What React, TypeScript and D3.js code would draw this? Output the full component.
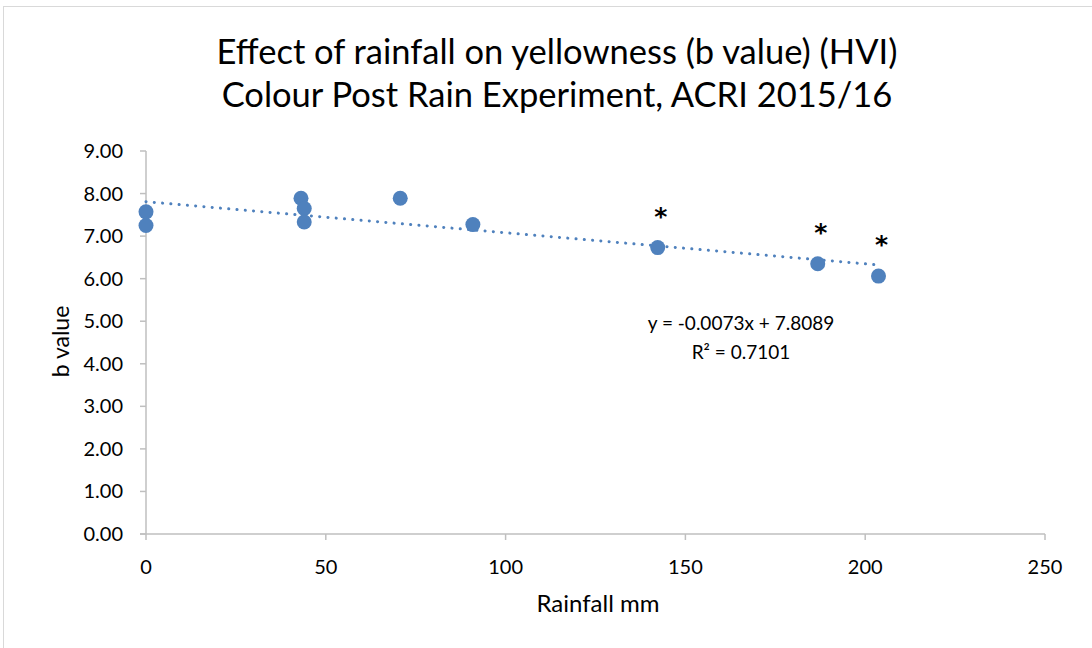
import React, { useEffect, useRef } from "react";
import * as d3 from "d3";

const rainfall = [0, 0, 43.1, 44, 44, 70.7, 90.9, 142.3, 186.8, 203.7];
const bValue = [7.57, 7.25, 7.89, 7.65, 7.33, 7.89, 7.27, 6.73, 6.35, 6.06];
const significant = [false, false, false, false, false, false, false, true, true, true];
const xTicks = [0, 50, 100, 150, 200, 250];
const yTicks = [0, 1, 2, 3, 4, 5, 6, 7, 8, 9];
const slope = -0.0073;
const intercept = 7.8089;
const titleLines = ["Effect of rainfall on yellowness (b value) (HVI)", "Colour Post Rain Experiment, ACRI 2015/16"];
const equationLines = ["y = -0.0073x + 7.8089", "R² = 0.7101"];

const W = 1092;
const H = 648;
const FONT = "Lato, 'Open Sans', sans-serif";
const BLUE = "#4f81bd";

export default function App() {
  const ref = useRef<SVGSVGElement>(null);
  useEffect(() => {
    const svg = d3.select(ref.current);
    svg.selectAll("*").remove();
    const x = d3.scaleLinear().domain([0, 250]).range([146, 1045]);
    const y = d3.scaleLinear().domain([0, 9]).range([534, 151]);

    svg.append("rect").attr("x", 3.5).attr("y", 6.5).attr("width", W + 10).attr("height", H + 10)
      .attr("fill", "#fff").attr("stroke", "#d9d9d9");

    const t = svg.append("g").attr("font-family", FONT).attr("fill", "#000").attr("text-anchor", "middle");
    titleLines.forEach((l, i) => {
      t.append("text").attr("x", 557).attr("y", 64 + i * 43).attr("font-size", 34.5).text(l);
    });

    // axes
    const ax = svg.append("g").attr("stroke", "#bfbfbf").attr("stroke-width", 1.5);
    ax.append("line").attr("x1", x(0)).attr("x2", x(0)).attr("y1", y(9)).attr("y2", y(0));
    ax.append("line").attr("x1", x(0) - 6).attr("x2", x(250)).attr("y1", y(0)).attr("y2", y(0));
    yTicks.forEach(v => {
      ax.append("line").attr("x1", x(0) - 6).attr("x2", x(0)).attr("y1", y(v)).attr("y2", y(v));
    });
    xTicks.forEach(v => {
      ax.append("line").attr("x1", x(v)).attr("x2", x(v)).attr("y1", y(0)).attr("y2", y(0) + 6);
    });

    const lab = svg.append("g").attr("font-family", FONT).attr("font-size", 20).attr("fill", "#000");
    yTicks.forEach(v => {
      lab.append("text").attr("x", 123).attr("y", y(v)).attr("dy", "0.35em").attr("text-anchor", "end").text(v.toFixed(2));
    });
    xTicks.forEach(v => {
      lab.append("text").attr("x", x(v)).attr("y", 574).attr("text-anchor", "middle").text(String(v));
    });
    lab.append("text").attr("x", 598).attr("y", 612).attr("text-anchor", "middle").attr("font-size", 24).text("Rainfall mm");
    lab.append("text").attr("transform", `translate(69,${y(4.5) - 1}) rotate(-90)`).attr("text-anchor", "middle").attr("font-size", 23).text("b value");

    // trendline
    const xMax = d3.max(rainfall) as number;
    svg.append("line")
      .attr("x1", x(0)).attr("y1", y(intercept))
      .attr("x2", x(xMax)).attr("y2", y(intercept + slope * xMax))
      .attr("stroke", BLUE).attr("stroke-width", 3).attr("stroke-linecap", "round")
      .attr("stroke-dasharray", "0.1 8.2");

    // points
    const pts = rainfall.map((r, i) => ({ r, b: bValue[i], s: significant[i] }));
    svg.append("g").selectAll("circle").data(pts).join("circle")
      .attr("cx", d => x(d.r)).attr("cy", d => y(d.b)).attr("r", 7.5).attr("fill", BLUE);

    svg.append("g").selectAll("text").data(pts.filter(d => d.s)).join("text")
      .attr("x", d => x(d.r) + 3).attr("y", d => y(d.b) - 23)
      .attr("text-anchor", "middle").attr("font-family", "'DejaVu Sans', sans-serif").attr("font-size", 25)
      .attr("font-weight", "bold")
      .text("*");

    const eq = svg.append("g").attr("font-family", FONT).attr("font-size", 19).attr("text-anchor", "middle");
    equationLines.forEach((l, i) => {
      eq.append("text").attr("x", 741).attr("y", 330 + i * 29).text(l);
    });
  }, []);
  return <svg ref={ref} width={W} height={H} style={{ position: "absolute", left: 0, top: 0, background: "#fff" }} />;
}
